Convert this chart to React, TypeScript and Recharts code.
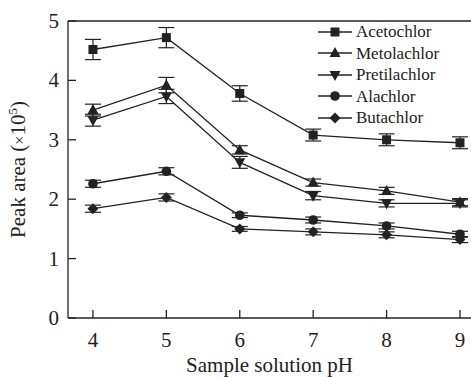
import React from "react";
import {
  LineChart,
  Line,
  XAxis,
  YAxis,
  ErrorBar,
  ReferenceLine,
  Legend,
} from "recharts";

const phValues = [4, 5, 6, 7, 8, 9];
const acetochlor = [4.52, 4.72, 3.78, 3.08, 3.0, 2.95];
const acetochlorErr = [0.17, 0.17, 0.13, 0.1, 0.1, 0.1];
const metolachlor = [3.5, 3.92, 2.83, 2.28, 2.14, 1.95];
const metolachlorErr = [0.1, 0.13, 0.07, 0.06, 0.06, 0.06];
const pretilachlor = [3.33, 3.73, 2.62, 2.06, 1.93, 1.93];
const pretilachlorErr = [0.1, 0.12, 0.1, 0.07, 0.06, 0.06];
const alachlor = [2.26, 2.47, 1.73, 1.65, 1.55, 1.41];
const alachlorErr = [0.06, 0.06, 0.04, 0.05, 0.05, 0.05];
const butachlor = [1.84, 2.03, 1.5, 1.45, 1.4, 1.32];
const butachlorErr = [0.06, 0.06, 0.04, 0.05, 0.05, 0.05];
const yTicks = [0, 1, 2, 3, 4, 5];

const seriesNames = ["Acetochlor", "Metolachlor", "Pretilachlor", "Alachlor", "Butachlor"];
const seriesShapes = ["square", "triangle", "invtriangle", "circle", "diamond"];

const data = phValues.map((ph, i) => ({
  ph,
  a: acetochlor[i],
  aErr: acetochlorErr[i],
  m: metolachlor[i],
  mErr: metolachlorErr[i],
  p: pretilachlor[i],
  pErr: pretilachlorErr[i],
  al: alachlor[i],
  alErr: alachlorErr[i],
  b: butachlor[i],
  bErr: butachlorErr[i],
}));

const INK = "#222";
const FONT = "'Times New Roman', 'Liberation Serif', Tinos, 'DejaVu Serif', serif";
const serifStyle = { fontFamily: FONT };

function Marker({ cx, cy, shape }: { cx: number; cy: number; shape: string }) {
  if (cx == null || cy == null) return null;
  switch (shape) {
    case "square":
      return <rect x={cx - 4.5} y={cy - 4.5} width={9} height={9} fill={INK} />;
    case "triangle":
      return (
        <polygon
          points={`${cx},${cy - 6} ${cx - 5.5},${cy + 4} ${cx + 5.5},${cy + 4}`}
          fill={INK}
        />
      );
    case "invtriangle":
      return (
        <polygon
          points={`${cx},${cy + 6} ${cx - 5.5},${cy - 4} ${cx + 5.5},${cy - 4}`}
          fill={INK}
        />
      );
    case "circle":
      return <circle cx={cx} cy={cy} r={4.8} fill={INK} />;
    case "diamond":
      return (
        <polygon
          points={`${cx},${cy - 5.5} ${cx + 5.5},${cy} ${cx},${cy + 5.5} ${cx - 5.5},${cy}`}
          fill={INK}
        />
      );
    default:
      return null;
  }
}

const makeDot = (shape: string) => (props: any) => (
  <Marker key={`${shape}-${props.index}`} cx={props.cx} cy={props.cy} shape={shape} />
);

function LegendContent() {
  return (
    <div style={{ fontFamily: FONT, fontSize: 17, color: INK }}>
      {seriesNames.map((name, i) => (
        <div
          key={name}
          style={{ display: "flex", alignItems: "center", height: 21.5, lineHeight: "21.5px" }}
        >
          <svg width={38} height={14} style={{ display: "block" }}>
            <line x1={0} y1={7} x2={34} y2={7} stroke={INK} strokeWidth={1.3} />
            <Marker cx={17} cy={7} shape={seriesShapes[i]} />
          </svg>
          <span>{name}</span>
        </div>
      ))}
    </div>
  );
}

function XTick(props: any) {
  const { x, y, payload } = props;
  return (
    <text x={x} y={y} dy={15} textAnchor="middle" style={serifStyle} fontSize={21} fill={INK}>
      {payload.value}
    </text>
  );
}

function YTick(props: any) {
  const { x, y, payload } = props;
  return (
    <text x={x} y={y} dy={7} textAnchor="end" style={serifStyle} fontSize={21} fill={INK}>
      {payload.value}
    </text>
  );
}

function XLabel(props: any) {
  const vb = props.viewBox || {};
  const cx = (vb.x || 0) + (vb.width || 0) / 2;
  const y = (vb.y || 0) + (vb.height || 0) - 5;
  return (
    <text x={cx} y={y} textAnchor="middle" style={serifStyle} fontSize={21} fill={INK}>
      Sample solution pH
    </text>
  );
}

function YLabel(props: any) {
  const vb = props.viewBox || {};
  const cy = (vb.y || 0) + (vb.height || 0) / 2;
  const x = 25;
  return (
    <text
      x={x}
      y={cy}
      transform={`rotate(-90, ${x}, ${cy})`}
      textAnchor="middle"
      style={serifStyle}
      fontSize={21}
      fill={INK}
    >
      Peak area (
      <tspan fontSize={16}>×</tspan>
      10
      <tspan fontSize={13} dy={-8}>5</tspan>
      <tspan dy={8}>)</tspan>
    </text>
  );
}

const lineProps = {
  type: "linear" as const,
  stroke: INK,
  strokeWidth: 1.3,
  isAnimationActive: false,
  activeDot: false as const,
  legendType: "none" as const,
};

export default function App() {
  return (
    <div
      style={{
        position: "absolute",
        left: 0,
        top: 0,
        width: 471,
        height: 377,
        background: "#fff",
        fontFamily: FONT,
      }}
    >
      <LineChart
        width={471}
        height={377}
        data={data}
        margin={{ top: 21, right: 0, bottom: 0, left: 0 }}
      >
        <XAxis
          dataKey="ph"
          type="number"
          domain={[3.66, 9.15]}
          ticks={phValues}
          allowDataOverflow
          height={59}
          tickSize={-8}
          tickMargin={22}
          stroke={INK}
          axisLine={{ stroke: INK, strokeWidth: 1.3 }}
          tickLine={{ stroke: INK, strokeWidth: 1.3 }}
          tick={<XTick />}
          label={<XLabel />}
        />
        <YAxis
          type="number"
          domain={[0, 5]}
          ticks={yTicks}
          width={68}
          tickSize={-8}
          tickMargin={17}
          stroke={INK}
          axisLine={{ stroke: INK, strokeWidth: 1.3 }}
          tickLine={{ stroke: INK, strokeWidth: 1.3 }}
          tick={<YTick />}
          label={<YLabel />}
        />
        <ReferenceLine y={5} stroke={INK} strokeWidth={1.3} />
        <Legend
          verticalAlign="middle"
          align="center"
          layout="vertical"
          content={<LegendContent />}
          wrapperStyle={{ left: 318, top: 21, width: 150 }}
        />
        <Line {...lineProps} dataKey="a" name="Acetochlor" dot={makeDot("square")}>
          <ErrorBar dataKey="aErr" width={8} stroke={INK} strokeWidth={1.2} />
        </Line>
        <Line {...lineProps} dataKey="m" name="Metolachlor" dot={makeDot("triangle")}>
          <ErrorBar dataKey="mErr" width={8} stroke={INK} strokeWidth={1.2} />
        </Line>
        <Line {...lineProps} dataKey="p" name="Pretilachlor" dot={makeDot("invtriangle")}>
          <ErrorBar dataKey="pErr" width={8} stroke={INK} strokeWidth={1.2} />
        </Line>
        <Line {...lineProps} dataKey="al" name="Alachlor" dot={makeDot("circle")}>
          <ErrorBar dataKey="alErr" width={8} stroke={INK} strokeWidth={1.2} />
        </Line>
        <Line {...lineProps} dataKey="b" name="Butachlor" dot={makeDot("diamond")}>
          <ErrorBar dataKey="bErr" width={8} stroke={INK} strokeWidth={1.2} />
        </Line>
      </LineChart>
    </div>
  );
}
